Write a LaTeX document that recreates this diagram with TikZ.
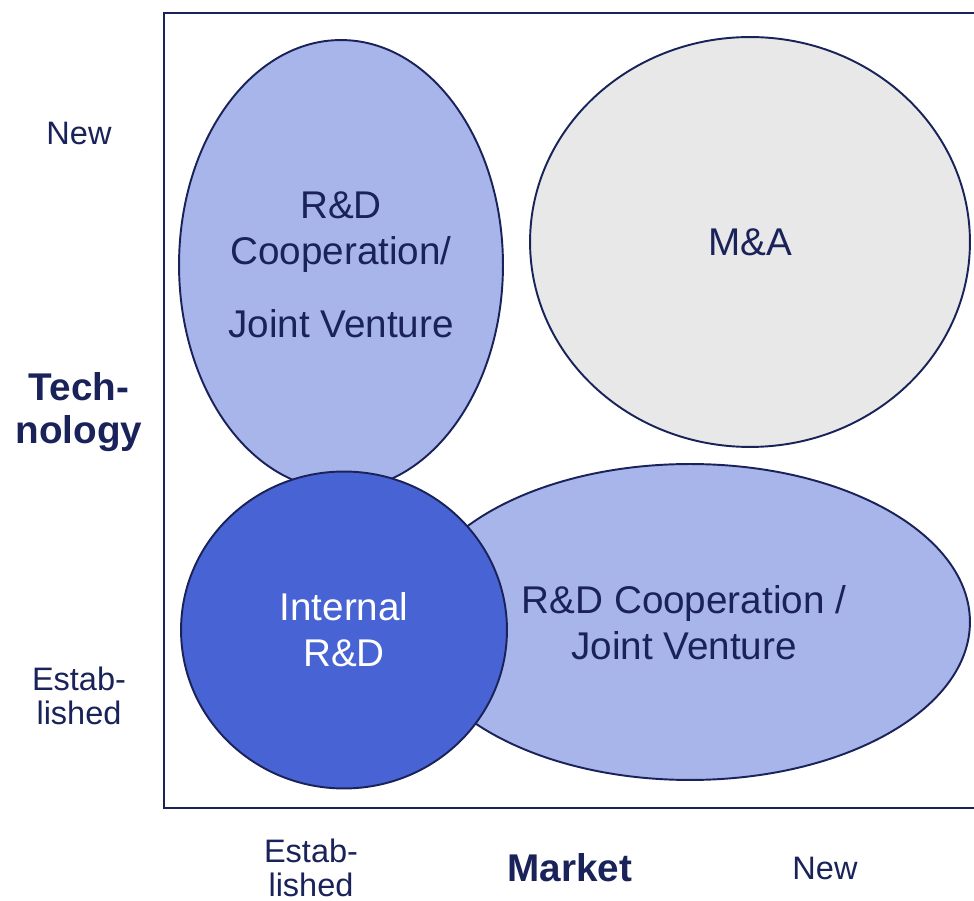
\documentclass[tikz,border=0pt]{standalone}
\usepackage{fontspec}
\setmainfont{Liberation Sans}
\usetikzlibrary{shapes.geometric}
\definecolor{navy}{HTML}{1A2359}
\definecolor{lightblue}{HTML}{A8B5EA}
\definecolor{midblue}{HTML}{4763D4}
\definecolor{lightgrey}{HTML}{E8E8E8}
\begin{document}
\begin{tikzpicture}[x=0.02cm,y=-0.02cm,
  blob/.style={ellipse,draw=navy,line width=1.1pt,inner sep=0pt,align=center,
    text=navy,font=\fontsize{22}{26}\selectfont},
  axis/.style={text=navy,align=center,font=\fontsize{18.5}{19}\selectfont},
  title/.style={text=navy,align=center,font=\fontsize{22}{24.5}\selectfont\bfseries}]
  \useasboundingbox (0,0) rectangle (974,901);
  \draw [navy,line width=1.4pt] (980,13) -- (164,13) -- (164,808) -- (980,808);
  \node [blob,fill=lightblue,minimum width=6.48cm,minimum height=9cm] (coopTop) at (341,265)
    {R\&D\\Cooperation/\\[16pt]Joint Venture};
  \node [blob,fill=lightgrey,minimum width=8.8cm,minimum height=8.2cm] (ma) at (750,242) {M\&A};
  \node [blob,fill=lightblue,minimum width=11.2cm,minimum height=6.32cm] (coopRight) at (690,622) {};
  \node [navy,align=center,font=\fontsize{22}{26}\selectfont] (coopText) at (684,623)
    {R\&D Cooperation /\\Joint Venture};
  \node [blob,fill=midblue,text=white,minimum width=6.52cm,minimum height=6.34cm] (internal) at (344,630)
    {Internal\\R\&D};
  \node [axis] (techNew) at (79,133) {New};
  \node [title] (tech) at (79,412) {Tech-\\nology};
  \node [axis] (techOld) at (79,696) {Estab-\\lished};
  \node [axis] (marketOld) at (311,868) {Estab-\\lished};
  \node [title] (market) at (570,868) {Market};
  \node [axis] (marketNew) at (825,868) {New};
\end{tikzpicture}
\end{document}
